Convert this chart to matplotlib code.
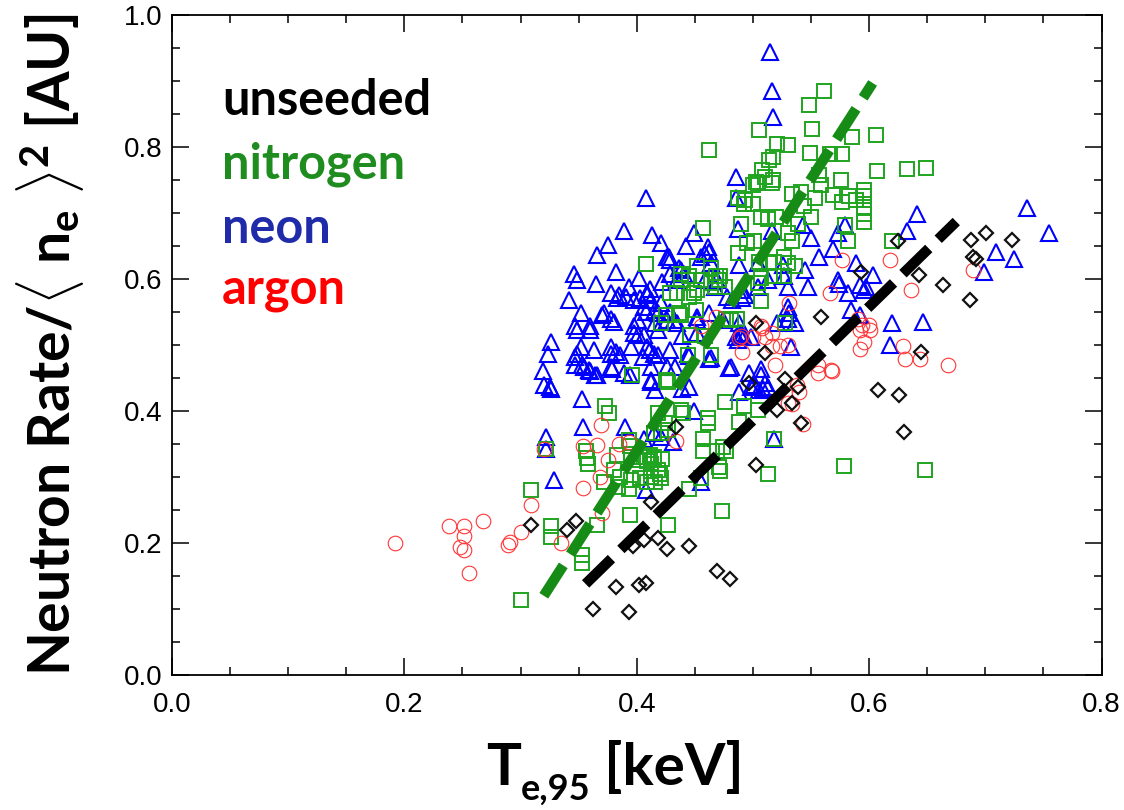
import matplotlib
matplotlib.use("Agg")
import matplotlib.pyplot as plt
from matplotlib.ticker import MultipleLocator

# ---------------- data ----------------
neon_x = [0.515,0.516,0.517,0.485,0.408,0.485,0.389,0.413,0.421,0.375,0.366,0.428,0.442,0.346,0.349,0.365,0.382,0.402,0.393,0.411,
          0.383,0.403,0.412,0.422,0.342,0.352,0.370,0.378,0.406,0.408,0.416,0.347,0.360,0.380,0.398,0.401,0.406,0.432,0.326,0.324,
          0.352,0.363,0.382,0.386,0.395,0.415,0.429,0.449,0.461,0.459,0.426,0.429,0.487,0.516,0.543,0.550,0.573,0.579,0.641,0.633,
          0.736,0.755,0.709,0.725,0.699,0.557,0.569,0.589,0.545,0.603,0.409,0.429,0.436,0.455,0.462,0.464,0.504,0.526,0.530,0.547,
          0.573,0.582,0.596,0.584,0.592,0.620,0.646,0.618,0.530,0.531,0.378,0.372,0.398,0.401,0.418,0.426,0.435,0.452,0.493,0.490,
          0.487,0.530,0.378,0.409,0.533,0.574,0.592,0.597,0.536,0.347,0.353,0.360,0.364,0.379,0.394,0.412,0.439,0.445,0.326,0.353,
          0.329,0.354,0.390,0.415,0.431,0.445,0.462,0.479,0.492,0.498,0.449,0.455,0.488,0.498,0.507,0.509,0.518,0.408,0.322,0.322,
          0.319,0.320,0.325,0.349,0.385,0.391,0.409,0.438,0.441,0.435,0.459,0.469,0.467,0.488,0.490,0.491,0.478,0.482,0.504,0.513,
          0.527,0.416,0.421,0.429,0.452,0.462,0.474,0.488,0.488,0.521,0.439,0.452,0.349,0.360,0.398,0.347,0.355,0.359,0.366,0.378,
          0.378,0.389,0.405,0.411,0.412,0.406,0.418,0.418,0.426,0.433,0.444,0.464,0.481,0.412,0.416,0.485,0.491,0.497,0.507,0.501,
          0.510,0.513,0.505,0.421]
neon_y = [0.944,0.885,0.845,0.754,0.722,0.722,0.672,0.667,0.654,0.652,0.636,0.634,0.650,0.608,0.598,0.593,0.611,0.601,0.588,0.585,
          0.571,0.571,0.568,0.596,0.568,0.548,0.545,0.540,0.558,0.550,0.533,0.528,0.528,0.535,0.528,0.515,0.515,0.538,0.505,0.487,
          0.497,0.492,0.490,0.485,0.497,0.487,0.492,0.669,0.649,0.638,0.634,0.629,0.676,0.672,0.682,0.662,0.669,0.682,0.698,0.672,
          0.707,0.670,0.641,0.631,0.611,0.634,0.646,0.624,0.614,0.606,0.578,0.608,0.617,0.634,0.641,0.624,0.624,0.621,0.588,0.588,
          0.598,0.578,0.583,0.553,0.545,0.533,0.535,0.500,0.558,0.548,0.578,0.548,0.568,0.538,0.548,0.538,0.533,0.538,0.576,0.518,
          0.508,0.540,0.497,0.497,0.497,0.593,0.591,0.588,0.533,0.470,0.470,0.460,0.455,0.463,0.455,0.444,0.434,0.436,0.434,0.418,
          0.295,0.376,0.376,0.366,0.353,0.483,0.478,0.465,0.512,0.512,0.400,0.293,0.429,0.436,0.455,0.434,0.358,0.280,0.360,0.342,
          0.460,0.439,0.437,0.487,0.576,0.573,0.576,0.614,0.608,0.598,0.598,0.598,0.588,0.621,0.583,0.571,0.573,0.568,0.588,0.598,
          0.604,0.553,0.563,0.550,0.543,0.548,0.538,0.533,0.518,0.533,0.513,0.518,0.523,0.523,0.518,0.482,0.467,0.462,0.455,0.487,
          0.467,0.457,0.482,0.492,0.467,0.358,0.523,0.485,0.467,0.467,0.487,0.480,0.467,0.447,0.432,0.512,0.515,0.457,0.464,0.439,
          0.442,0.437,0.432,0.361]

nitrogen_x = [0.561,0.548,0.505,0.551,0.585,0.606,0.462,0.521,0.530,0.517,0.514,0.549,0.566,0.577,0.607,0.633,0.649,0.508,0.503,0.500,
              0.517,0.510,0.576,0.557,0.559,0.596,0.596,0.596,0.596,0.596,0.583,0.577,0.589,0.569,0.534,0.541,0.553,0.544,0.550,0.539,
              0.493,0.500,0.490,0.507,0.513,0.520,0.530,0.534,0.527,0.536,0.579,0.582,0.620,0.487,0.495,0.501,0.505,0.514,0.518,0.507,
              0.457,0.408,0.452,0.464,0.468,0.472,0.464,0.455,0.445,0.438,0.435,0.452,0.445,0.425,0.438,0.421,0.451,0.477,0.486,0.507,
              0.528,0.464,0.444,0.504,0.516,0.487,0.492,0.530,0.527,0.518,0.471,0.467,0.476,0.449,0.429,0.504,0.436,0.481,0.446,0.459,
              0.438,0.326,0.326,0.353,0.366,0.394,0.427,0.473,0.513,0.578,0.648,0.518,0.472,0.445,0.373,0.376,0.356,0.358,0.372,0.384,
              0.393,0.396,0.427,0.394,0.409,0.412,0.421,0.409,0.415,0.422,0.476,0.492,0.504,0.488,0.461,0.457,0.457,0.469,0.477,0.440,
              0.424,0.427,0.421,0.300,0.309,0.353,0.357,0.322,0.393,0.383,0.395,0.401,0.406,0.411,0.380,0.386,0.395,0.403,0.412,0.418,
              0.412,0.425,0.438,0.461,0.474,0.418,0.415,0.471,0.455,0.415,0.420,0.416]
nitrogen_y = [0.885,0.864,0.825,0.828,0.815,0.818,0.796,0.805,0.803,0.785,0.780,0.791,0.790,0.789,0.764,0.766,0.768,0.765,0.747,0.742,
              0.750,0.755,0.750,0.758,0.742,0.735,0.725,0.709,0.699,0.687,0.725,0.717,0.720,0.727,0.729,0.732,0.722,0.710,0.694,0.684,
              0.720,0.714,0.684,0.694,0.691,0.694,0.669,0.657,0.634,0.619,0.682,0.657,0.657,0.639,0.654,0.657,0.626,0.624,0.626,0.601,
              0.677,0.623,0.619,0.616,0.604,0.604,0.594,0.598,0.604,0.598,0.578,0.583,0.573,0.545,0.545,0.533,0.553,0.540,0.540,0.566,
              0.533,0.485,0.485,0.745,0.745,0.722,0.714,0.624,0.604,0.604,0.598,0.588,0.588,0.578,0.578,0.594,0.548,0.538,0.515,0.513,
              0.608,0.225,0.209,0.170,0.227,0.243,0.227,0.248,0.304,0.316,0.311,0.357,0.309,0.282,0.408,0.397,0.340,0.319,0.293,0.285,
              0.282,0.455,0.444,0.347,0.324,0.309,0.298,0.293,0.327,0.327,0.413,0.408,0.402,0.384,0.382,0.358,0.340,0.340,0.340,0.397,
              0.382,0.371,0.366,0.113,0.281,0.182,0.328,0.343,0.356,0.333,0.331,0.326,0.331,0.333,0.311,0.300,0.295,0.298,0.300,0.311,
              0.320,0.447,0.402,0.389,0.346,0.397,0.366,0.315,0.298,0.331,0.305,0.293]

argon_x = [0.192,0.238,0.251,0.251,0.248,0.251,0.256,0.268,0.289,0.291,0.300,0.309,0.320,0.335,0.354,0.354,0.366,0.369,0.368,0.385,
           0.393,0.375,0.370,0.434,0.491,0.488,0.500,0.510,0.516,0.523,0.519,0.538,0.540,0.534,0.543,0.556,0.568,0.592,0.601,0.596,
           0.592,0.629,0.631,0.644,0.668,0.566,0.531,0.530,0.590,0.600,0.594,0.636,0.556,0.567,0.577,0.618,0.689,0.508,0.468,0.455,
           0.490,0.507,0.516,0.530]
argon_y = [0.200,0.225,0.225,0.211,0.194,0.190,0.154,0.234,0.197,0.202,0.217,0.258,0.342,0.200,0.283,0.347,0.348,0.379,0.300,0.350,
           0.353,0.325,0.245,0.355,0.489,0.510,0.512,0.512,0.499,0.499,0.470,0.439,0.429,0.410,0.380,0.457,0.460,0.523,0.523,0.505,
           0.494,0.499,0.478,0.478,0.470,0.578,0.563,0.500,0.540,0.530,0.530,0.583,0.470,0.462,0.629,0.629,0.613,0.525,0.543,0.528,
           0.513,0.528,0.518,0.412]

unseeded_x = [0.309,0.340,0.348,0.362,0.393,0.382,0.402,0.408,0.397,0.406,0.418,0.426,0.445,0.412,0.469,0.480,0.434,0.503,0.497,0.510,
              0.528,0.521,0.534,0.541,0.539,0.503,0.559,0.593,0.608,0.626,0.630,0.645,0.643,0.625,0.664,0.687,0.688,0.701,0.723,0.689,
              0.692]
unseeded_y = [0.227,0.220,0.234,0.100,0.095,0.134,0.136,0.140,0.196,0.204,0.207,0.191,0.195,0.262,0.157,0.146,0.375,0.318,0.443,0.488,
              0.448,0.402,0.412,0.382,0.437,0.533,0.543,0.611,0.432,0.424,0.368,0.490,0.606,0.657,0.591,0.568,0.659,0.670,0.659,0.634,
              0.631]

fit_nitrogen_x = [0.320, 0.603]
fit_nitrogen_y = [0.120, 0.897]
fit_unseeded_x = [0.356, 0.675]
fit_unseeded_y = [0.138, 0.687]

legend_labels = ["unseeded", "nitrogen", "neon", "argon"]
xticks = [0.0, 0.2, 0.4, 0.6, 0.8]
yticks = [0.0, 0.2, 0.4, 0.6, 0.8, 1.0]

# ---------------- style ----------------
plt.rcParams['lines.scale_dashes'] = False
plt.rcParams['mathtext.fontset'] = 'custom'
plt.rcParams['mathtext.rm'] = 'Lato:bold'
plt.rcParams['mathtext.bf'] = 'Lato:bold'
plt.rcParams['mathtext.it'] = 'Lato:bold'
plt.rcParams['mathtext.default'] = 'bf'

fig = plt.figure(figsize=(11.24, 8.10), dpi=100)
ax = fig.add_axes([0.153, 0.1667, 0.827, 0.8148])

ax.plot(neon_x, neon_y, linestyle='none', marker='^', markersize=11.5, markerfacecolor='none',
        markeredgecolor='#0000ff', markeredgewidth=1.5)
ax.plot(nitrogen_x, nitrogen_y, linestyle='none', marker='s', markersize=10.5, markerfacecolor='none',
        markeredgecolor='#1fa51f', markeredgewidth=1.4)
ax.plot(argon_x, argon_y, linestyle='none', marker='o', markersize=10.5, markerfacecolor='none',
        markeredgecolor='#ff3535', markeredgewidth=0.8)
ax.plot(unseeded_x, unseeded_y, linestyle='none', marker='D', markersize=7.2, markerfacecolor='none',
        markeredgecolor='#111111', markeredgewidth=1.6)

ax.plot(fit_nitrogen_x, fit_nitrogen_y, color='#168c16', linewidth=7.5, dashes=(26, 9.5), solid_capstyle='butt', dash_capstyle='butt')
ax.plot(fit_unseeded_x, fit_unseeded_y, color='#000000', linewidth=7.5, dashes=(26, 9.5), solid_capstyle='butt', dash_capstyle='butt')

ax.set_xlim(0.0, 0.8)
ax.set_ylim(0.0, 1.0)
ax.set_xticks(xticks)
ax.set_yticks(yticks)
ax.set_xticklabels([f"{v:.1f}" for v in xticks])
ax.set_yticklabels([f"{v:.1f}" for v in yticks])
ax.xaxis.set_minor_locator(MultipleLocator(0.05))
ax.yaxis.set_minor_locator(MultipleLocator(0.05))
ax.tick_params(which='both', direction='in', top=True, right=True, width=1.1, color='black')
ax.tick_params(which='major', length=12)
ax.tick_params(which='minor', length=6)
ax.tick_params(axis='x', which='major', pad=12, labelsize=20)
ax.tick_params(axis='y', which='major', pad=7, labelsize=20)
for lab in ax.get_xticklabels() + ax.get_yticklabels():
    lab.set_fontfamily('Liberation Sans')
for sp in ax.spines.values():
    sp.set_linewidth(1.3)

legend_colors = ['#000000', '#1e8c1e', '#1f2ba8', '#ff0000']
legend_y = [0.848, 0.753, 0.655, 0.563]
for lab, col, yy in zip(legend_labels, legend_colors, legend_y):
    ax.text(0.043, yy, lab, color=col, fontsize=35, fontweight='bold', family='Lato',
            ha='left', va='baseline')

fig.text(50/1124, 1 - 345/810, r'Neutron Rate/$\langle$ n$_e$ $\rangle^2$ [AU]', rotation=90,
         ha='center', va='center', fontsize=41, fontweight='bold', family='Lato')

# x-axis label built from pieces: "T" + subscript "e,95" + " [keV]"
fig.canvas.draw()
renderer = fig.canvas.get_renderer()
xl_size = 42
base_y = 1 - 785/810
pieces = [("T", xl_size, 0.0), ("e,95", xl_size * 0.62, -0.018), (" [keV]", xl_size, 0.0)]
widths = []
tmp_texts = []
for s, fs, dy in pieces:
    t = fig.text(0, 0, s, fontsize=fs, fontweight='bold', family='Lato')
    tmp_texts.append(t)
    widths.append(t.get_window_extent(renderer).width / fig.bbox.width)
total = sum(widths)
x0 = 615/1124 - total / 2
for (s, fs, dy), t, w in zip(pieces, tmp_texts, widths):
    t.set_position((x0, base_y + dy))
    t.set_va('baseline')
    t.set_ha('left')
    x0 += w

fig.savefig('out.png', dpi=100)
